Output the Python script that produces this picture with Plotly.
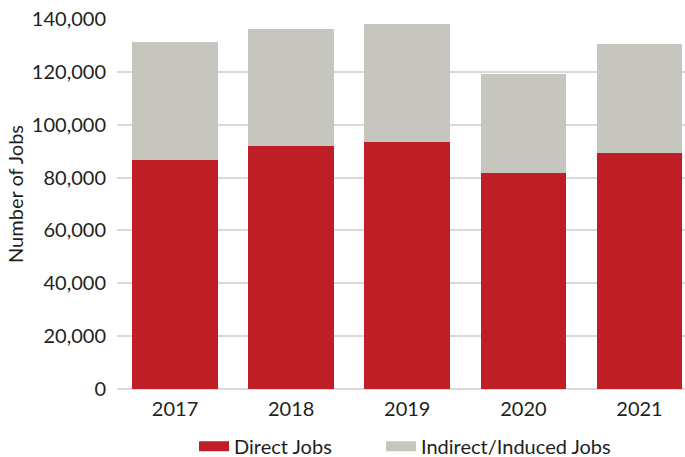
import plotly.graph_objects as go

years = ["2017", "2018", "2019", "2020", "2021"]
direct_jobs = [86700, 92000, 93500, 81800, 89400]
indirect_jobs = [44700, 44300, 44700, 37500, 41200]
series_names = ["Direct Jobs", "Indirect/Induced Jobs"]
tick_values = [0, 20000, 40000, 60000, 80000, 100000, 120000, 140000]

RED = "#BE1E26"
GREY = "#C6C6BE"
TEXT = "#231F20"
FONT = "Lato"

fig = go.Figure()
fig.add_trace(go.Bar(x=years, y=direct_jobs, name=series_names[0],
                     marker=dict(color=RED, line=dict(width=0)), showlegend=False))
fig.add_trace(go.Bar(x=years, y=indirect_jobs, name=series_names[1],
                     marker=dict(color=GREY, line=dict(width=0)), showlegend=False))
# legend-only entries (wide swatches), each in its own legend box
for nm, col, lg in zip(series_names, [RED, GREY], ["legend", "legend2"]):
    fig.add_trace(go.Scatter(x=[None], y=[None], mode="lines", name=nm,
                             line=dict(color=col, width=10), legend=lg))

legend_common = dict(orientation="h", xanchor="left", y=-0.155, yanchor="middle",
                     font=dict(size=20, color=TEXT), bgcolor="rgba(0,0,0,0)")

fig.update_layout(
    width=685, height=457,
    barmode="stack", bargap=0.262,
    plot_bgcolor="white", paper_bgcolor="white",
    margin=dict(l=117, r=0, t=19, b=68, autoexpand=False),
    font=dict(family=FONT, size=20, color=TEXT),
    xaxis=dict(type="category", range=[-0.5, 4.392], showgrid=False,
               showline=False, ticks="", tickfont=dict(size=20, color=TEXT),
               ticklabelstandoff=6, automargin=False),
    yaxis=dict(range=[0, 140000], tickvals=tick_values, tickformat=",",
               showgrid=True, gridcolor="#D9D9D9", gridwidth=1.5,
               zeroline=True, zerolinecolor="#D9D9D9", zerolinewidth=2,
               showline=False, ticks="", tickfont=dict(size=20, color=TEXT),
               ticklabelstandoff=10, automargin=False),
    legend=dict(x=0.1356, **legend_common),
    legend2=dict(x=0.4648, **legend_common),
    annotations=[dict(text="Number of Jobs", xref="paper", yref="paper",
                      x=(15 - 117) / 568, y=(389 - 194) / 370, xanchor="center",
                      yanchor="middle", textangle=-90, showarrow=False,
                      font=dict(size=20, color=TEXT))],
)

fig.write_html("out.html", config={"displayModeBar": False},
               post_script="document.body.style.margin='0';")
